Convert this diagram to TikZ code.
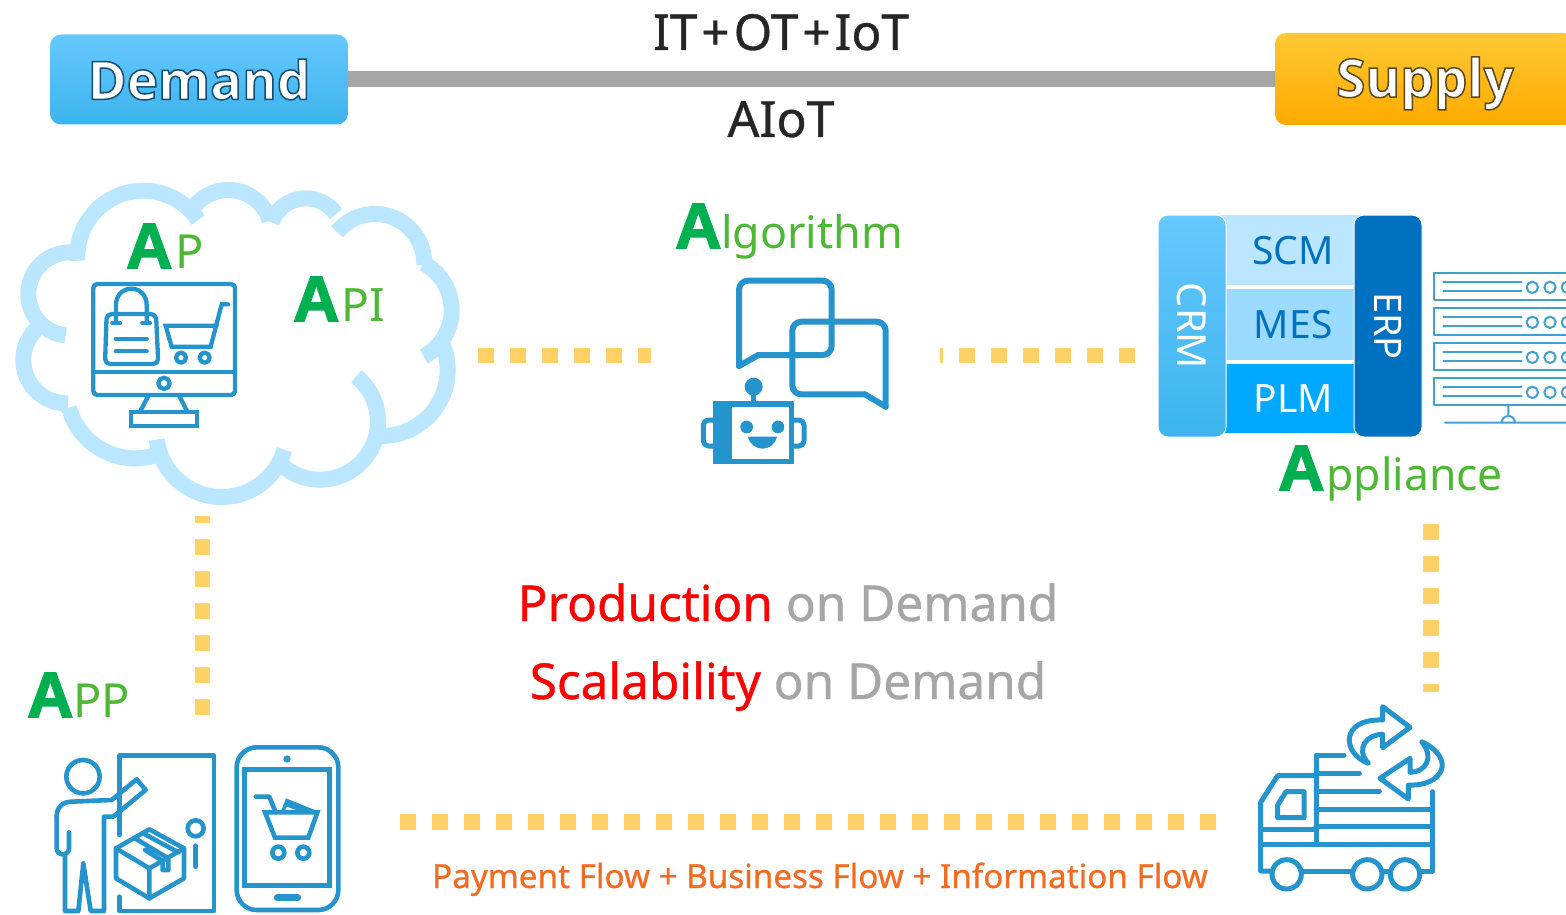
\documentclass[tikz,border=0pt]{standalone}
\usepackage{fontspec}
\setmainfont{Noto Sans}
\newfontfamily\medf[FakeBold=0.7]{Noto Sans}
\newfontfamily\Aface[FakeBold=2.5]{Liberation Sans Bold}
\newfontfamily\headf{Open Sans Bold}
\usetikzlibrary{calc}
\definecolor{icon}{HTML}{2593CC}
\definecolor{srv}{HTML}{40A0D0}
\definecolor{cloudc}{HTML}{BBE6FF}
\definecolor{mesc}{HTML}{9BDBFF}
\definecolor{plmc}{HTML}{00A8FF}
\definecolor{bluetop}{HTML}{66C8FF}
\definecolor{bluebot}{HTML}{3CB4EC}
\definecolor{orgtop}{HTML}{FFC832}
\definecolor{orgbot}{HTML}{FFAA00}
\definecolor{dots}{HTML}{FFD166}
\definecolor{agreen}{HTML}{00B050}
\definecolor{lgreen}{HTML}{4DB833}
\definecolor{bar}{HTML}{A6A6A6}
\definecolor{dark}{HTML}{262626}
\definecolor{erpblue}{HTML}{0070C0}
\definecolor{orangetext}{HTML}{F26B21}
\newcommand\fs[1]{\fontsize{#1}{#1}\selectfont}
\newcommand\bigA{{\Aface\fs{64}\color{agreen}A}}
\newcommand\glowtxt[2]{\special{pdf:code q 2 Tr 1.5 w #1 RG}{\headf #2}\special{pdf:code 0 Tr Q}}
\newcommand\lobe[5]{\draw[cloudarc] ({#1+#3*cos(#4)},{#2+#3*sin(#4)}) arc[start angle=#4,end angle=#5,radius=#3];}
\tikzset{
  ic/.style={draw=icon,line width=#1,line join=round,line cap=round},
  ic/.default=4.3pt,
  cloudarc/.style={draw=cloudc,line width=16pt,line cap=butt},
  dotted line/.style={draw=dots,line width=15.5pt,dash pattern=on 16pt off 16pt},
  alabel/.style={anchor=base west,inner sep=0pt,text=lgreen},
  txt/.style={inner sep=0pt,anchor=base},
  blockcell/.style={minimum width=148pt,inner sep=0pt,anchor=north west,font=\fs{39}},
  sidebar/.style={rounded corners=10pt,minimum width=68pt,minimum height=222pt,inner sep=0pt,draw=white,line width=1pt,anchor=north west},
  headbox/.style={rounded corners=11pt,inner sep=0pt,text=white,font=\fs{53}}
}
\begin{document}
\begin{tikzpicture}[x=1pt,y=-1pt]
\useasboundingbox (0,0) rectangle (1566,915);
\clip (0,0) rectangle (1566,915);
\fill[white] (0,0) rectangle (1566,915);
% header
\node[headbox,minimum width=298pt,minimum height=90pt,top color=bluetop,bottom color=bluebot] (demand) at (199,79.5) {\glowtxt{0.08 0.3 0.45}{Demand}};
\node[headbox,minimum width=300pt,minimum height=92pt,top color=orgtop,bottom color=orgbot,text depth=4pt] (supply) at (1425,79) {\glowtxt{0.35 0.28 0.12}{Supply}};
\draw[bar,line width=16pt] (demand.east) -- (demand.east -| supply.west);
\node[txt,text=dark,font=\medf\fs{49.5}] (itot) at (781,50) {IT\kern4pt+\kern4pt OT\kern4pt+\kern4pt IoT};
\node[txt,text=dark,font=\medf\fs{50}] (aiot) at (781,137) {AIoT};
% cloud
\begin{scope}[shift={(0,170)},x=.33333pt,y=-.33333pt]
\lobe{430}{260}{198}{176.5}{326.3}
\lobe{685}{190}{130}{215}{343}
\lobe{918}{195}{110}{200}{325}
\lobe{1125}{280}{148}{219.5}{362}
\lobe{1197}{420}{158}{-62}{62}
\lobe{1145}{600}{198}{-25}{90}
\lobe{960}{755}{174}{-51.3}{129}
\lobe{665}{785}{196}{173}{16}
\lobe{405}{660}{205}{165}{68}
\lobe{200}{570}{130}{88}{230}
\lobe{210}{372}{125}{96}{280}
% monitor
\draw[ic,rounded corners=4pt] (280,342) rectangle (705,675);
\draw[ic] (280,605)--(705,605);
\draw[ic] (492,640) circle (17);
\draw[ic] (445,678)--(420,725) (538,678)--(562,725);
\draw[ic,line join=miter] (393,725) rectangle (592,768);
% bag
\draw[ic,rounded corners=5pt] (320,432)--(468,432)--(475,582)--(315,582)--cycle;
\draw[ic] (348,458)--(348,405) .. controls (348,340) and (440,340) .. (440,405)--(440,458);
\draw[ic] (337,458)--(360,458) (427,458)--(450,458);
\draw[ic] (347,506)--(440,506) (347,544)--(440,544);
% cart
\draw[ic,line join=miter] (684,403)--(665,403)--(632,530)--(515,530)--(497,467)--(650,467);
\draw[ic] (543,563) circle (15) (614,563) circle (15);
\end{scope}
\node[alabel] (ap) at (126,268) {\bigA\kern3pt\fs{47}P};
\node[alabel] (api) at (293,321) {\bigA\kern2pt\fs{46}PI};
% algorithm
\node[alabel] (alg) at (675,248) {\bigA\fs{44.7}lgorithm};
\begin{scope}[shift={(660,260)},x=.33333pt,y=-.33333pt]
\draw[ic=6pt,rounded corners=9pt] (237,318)--(237,62)--(515,62)--(515,285)--(295,285);
\draw[ic=6pt] (295,285)--(237,318);
\draw[ic=6pt,rounded corners=9pt] (615,403)--(397,403)--(397,185)--(677,185)--(677,440);
\draw[ic=6pt] (677,440)--(615,403);
\draw[icon,line width=5.5pt,line join=miter] (168,432) rectangle (395,605);
\fill[icon] (168,432) rectangle (217,605);
\fill[icon] (281,380) circle (27);
\draw[ic=5pt] (281,400)--(281,432);
\draw[ic=5pt,rounded corners=5pt] (168,480)--(130,480)--(130,558)--(168,558);
\draw[ic=5pt,rounded corners=5pt] (395,480)--(432,480)--(432,558)--(395,558);
\fill[icon] (260,501) circle (19) (354,501) circle (19);
\fill[icon] (264,530) .. controls (275,578) and (340,578) .. (351,530) -- cycle;
\end{scope}
% ERP block
\node[blockcell,fill=cloudc,minimum height=70pt,text=erpblue] (scm) at (1216,215) {\hspace*{6pt}SCM};
\node[blockcell,fill=mesc,minimum height=71pt,text=erpblue] (mes) at (1216,289) {\hspace*{6pt}MES};
\node[blockcell,fill=plmc,minimum height=69pt,text=white] (plm) at (1216,364) {\hspace*{6pt}PLM};
\node[sidebar,top color=bluetop,bottom color=bluebot] (crm) at (1157.5,214.5) {\rotatebox{-90}{\color{white}\fs{40}CRM}};
\node[sidebar,fill=erpblue] (erp) at (1353.5,214.5) {\rotatebox{-90}{\color{white}\fs{38}ERP}};
\node[alabel] (appl) at (1278,490) {\bigA\kern2pt\fs{44.5}ppliance};
% servers
\begin{scope}[shift={(1150,200)},x=.33333pt,y=-.33333pt]
\foreach \yy in {0,105,210,315}{
 \draw[ic=2pt,line cap=butt,draw=srv] (1320,220+\yy)--(852,220+\yy)--(852,300+\yy)--(1320,300+\yy);
 \draw[ic=2pt,draw=srv] (880,247+\yy)--(1115,247+\yy) (880,273+\yy)--(1115,273+\yy);
 \draw[ic=2pt,draw=srv] (1147,262+\yy) circle (17) (1200,262+\yy) circle (17) (1252,262+\yy) circle (17);
}
\draw[ic=2pt,draw=srv] (1075,615)--(1075,648) (1055,668) arc[start angle=180,end angle=360,radius=20] (885,668)--(1320,668);
\end{scope}
% centre text
\node[txt,anchor=base] (prod) at (788,621) {\medf\fs{49.5}{\color{red}Production} {\color{bar}on Demand}};
\node[txt,anchor=base] (scal) at (788,699) {\medf\fs{49.5}{\color{red}Scalability} {\color{bar}on Demand}};
\node[txt,text=orangetext,font=\medf\fs{33.2}] (flow) at (820,888) {Payment Flow + Business Flow + Information Flow};
% APP
\node[alabel] (app) at (27,717) {\bigA\fs{47}PP};
\begin{scope}[shift={(30,735)},x=.33333pt,y=-.33333pt]
\draw[ic=4.6pt] (268,300)--(268,62)--(552,62)--(552,528)--(268,528)--(268,485);
\draw[ic=4.6pt] (159,125) circle (50);
\draw[ic=4.6pt,rounded corners=6pt] (117,292)--(117,358)--(80,358)--(80,245);
\draw[ic=4.6pt] (80,245) .. controls (80,215) and (100,200) .. (125,200) -- (245,195)--(320,133)--(347,165)--(250,245)--(222,245)--(222,528)--(182,528)--(160,385)--(145,528)--(105,528)--(105,360);
\draw[ic=4.6pt] (497,280) circle (24);
\draw[ic=4.6pt] (497,332)--(497,395);
\draw[ic=4.6pt] (258,340)--(358,283)--(462,340)--(462,430)--(358,490)--(258,430)--cycle;
\draw[ic=4.6pt] (258,340)--(358,400)--(462,340) (358,400)--(358,490);
\draw[ic=4.6pt] (315,310)--(415,370)--(415,405)--(398,405)--(398,378)--(345,345) (345,298)--(445,352);
% phone
\draw[ic=4.6pt,rounded corners=20pt] (620,37) rectangle (925,525);
\draw[ic=5pt,line join=miter] (645,102) rectangle (898,452);
\fill[icon] (771,72) circle (11);
\draw[ic=7pt] (742,488)--(803,488);
\draw[ic=4.6pt] (678,185)--(718,185)--(737,232);
\draw[ic=4.6pt,line join=miter] (705,232)--(862,232)--(835,308)--(735,308)--cycle;
\draw[ic=4.6pt] (745,353) circle (18) (820,353) circle (18);
\fill[icon] (752,232)--(768,190)--(862,228)--(862,236)--(800,225)--(770,215)--(762,236)--cycle;
\end{scope}
% truck
\begin{scope}[shift={(1240,695)},x=.33333pt,y=-.33333pt]
\draw[ic=5pt] (92,528)--(62,528)--(62,322)--(113,242)--(228,242);
\draw[ic=5pt] (312,180)--(228,180)--(228,448);
\draw[ic=5pt] (228,235)--(358,235) (228,288)--(418,288) (228,342)--(578,342) (228,395)--(578,395) (62,448)--(578,448) (62,402)--(228,402);
\draw[ic=5pt] (578,290)--(578,528)--(545,528);
\draw[ic=5pt] (190,528)--(335,528) (430,528)--(450,528);
\draw[ic=5pt] (140,538) circle (44) (382,538) circle (44) (495,538) circle (44);
\draw[ic=5pt] (113,368)--(113,330)--(138,290)--(192,290)--(192,368)--cycle;
\draw[ic=5pt] (428,75)--(428,35)--(510,97)--(428,158)--(428,118) .. controls (380,118) and (345,160) .. (385,205) .. controls (305,175) and (300,70) .. (428,75) -- cycle;
\draw[ic=5pt] (510,232)--(510,190)--(420,250)--(505,312)--(505,270) .. controls (610,275) and (650,190) .. (545,140) .. controls (585,190) and (555,232) .. (510,232) -- cycle;
\end{scope}
% connectors
\coordinate (d1a) at (478,355.5); \coordinate (d1b) at (651,355.5);
\coordinate (d2a) at (1135,355.5); \coordinate (d2b) at (940,355.5);
\coordinate (d3a) at (202.5,715); \coordinate (d3b) at (202.5,516);
\coordinate (d4a) at (1431,524); \coordinate (d4b) at (1431,692);
\coordinate (d5a) at (400,822); \coordinate (d5b) at (1217,822);
\draw[dotted line] (d1a)--(d1b);
\draw[dotted line] (d2a)--(d2b);
\draw[dotted line] (d3a)--(d3b);
\draw[dotted line] (d4a)--(d4b);
\draw[dotted line] (d5a)--(d5b);
\end{tikzpicture}
\end{document}
